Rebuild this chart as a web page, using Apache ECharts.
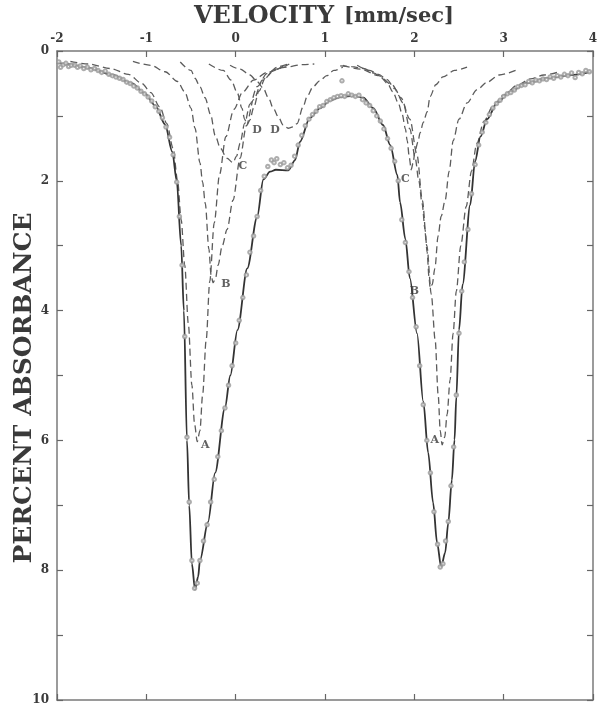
<!DOCTYPE html>
<html>
<head>
<meta charset="utf-8">
<script src="https://cdn.jsdelivr.net/npm/echarts@6/dist/echarts.min.js"></script>
<style>
  html, body { margin: 0; padding: 0; background: #fff; }
  #chart { width: 601px; height: 709px; }
</style>
</head>
<body>
<div id="chart"></div>
<script>
// velocity ticks (mm/sec) and absorbance tick labels
const velTicks = [-2, -1, 0, 1, 2, 3, 4]
const absTickLabels = [0, 2, 4, 6, 8, 10]

// measured spectrum (open circles), [velocity, % absorbance]
const measured = [
  [-1.98, 0.17], [-1.96, 0.25], [-1.93, 0.21], [-1.9, 0.19], [-1.87, 0.24], [-1.84, 0.22],
  [-1.8, 0.22], [-1.77, 0.25], [-1.74, 0.23], [-1.7, 0.27], [-1.66, 0.25], [-1.62, 0.29],
  [-1.58, 0.27], [-1.54, 0.3], [-1.5, 0.33], [-1.46, 0.31], [-1.42, 0.36], [-1.38, 0.38],
  [-1.34, 0.4], [-1.3, 0.42], [-1.26, 0.44], [-1.22, 0.48], [-1.18, 0.5], [-1.14, 0.54],
  [-1.1, 0.57], [-1.06, 0.62], [-1.02, 0.66], [-0.98, 0.71], [-0.94, 0.77], [-0.9, 0.86],
  [-0.86, 0.93], [-0.82, 1.03], [-0.78, 1.17], [-0.74, 1.33], [-0.7, 1.6], [-0.66, 2.02],
  [-0.63, 2.55], [-0.6, 3.3], [-0.57, 4.4], [-0.545, 5.95], [-0.52, 6.95], [-0.49, 7.85],
  [-0.46, 8.28], [-0.43, 8.2], [-0.4, 7.85], [-0.36, 7.55], [-0.32, 7.3], [-0.28, 6.95],
  [-0.24, 6.6], [-0.2, 6.25], [-0.16, 5.85], [-0.12, 5.5], [-0.08, 5.15], [-0.04, 4.85],
  [0.0, 4.5], [0.04, 4.15], [0.08, 3.8], [0.12, 3.45], [0.16, 3.1], [0.2, 2.85],
  [0.24, 2.55], [0.28, 2.15], [0.32, 1.93], [0.36, 1.78], [0.4, 1.68], [0.43, 1.72],
  [0.46, 1.66], [0.5, 1.75], [0.54, 1.72], [0.58, 1.8], [0.62, 1.76], [0.66, 1.62],
  [0.7, 1.45], [0.74, 1.3], [0.78, 1.15], [0.82, 1.05], [0.86, 0.98], [0.9, 0.93],
  [0.94, 0.86], [0.98, 0.84], [1.02, 0.78], [1.06, 0.75], [1.1, 0.72], [1.14, 0.7],
  [1.18, 0.69], [1.19, 0.46], [1.22, 0.7], [1.26, 0.66], [1.3, 0.68], [1.34, 0.7],
  [1.38, 0.68], [1.42, 0.75], [1.46, 0.8], [1.5, 0.84], [1.54, 0.92], [1.58, 1.0],
  [1.62, 1.08], [1.66, 1.2], [1.7, 1.35], [1.74, 1.5], [1.78, 1.7], [1.82, 2.0],
  [1.86, 2.6], [1.9, 2.95], [1.94, 3.4], [1.98, 3.8], [2.02, 4.25], [2.06, 4.85],
  [2.1, 5.45], [2.14, 6.0], [2.18, 6.5], [2.22, 7.1], [2.26, 7.6], [2.29, 7.95],
  [2.32, 7.9], [2.35, 7.55], [2.38, 7.25], [2.41, 6.7], [2.44, 6.1], [2.47, 5.3],
  [2.5, 4.35], [2.53, 3.7], [2.56, 3.25], [2.6, 2.75], [2.64, 2.2], [2.68, 1.75],
  [2.72, 1.45], [2.76, 1.25], [2.8, 1.1], [2.84, 0.98], [2.88, 0.88], [2.92, 0.81],
  [2.96, 0.76], [3.0, 0.7], [3.04, 0.66], [3.08, 0.64], [3.12, 0.6], [3.16, 0.55],
  [3.2, 0.53], [3.24, 0.52], [3.28, 0.47], [3.32, 0.49], [3.36, 0.45], [3.4, 0.46],
  [3.44, 0.43], [3.48, 0.44], [3.52, 0.4], [3.56, 0.42], [3.6, 0.38], [3.64, 0.4],
  [3.68, 0.36], [3.72, 0.38], [3.76, 0.34], [3.8, 0.41], [3.84, 0.33], [3.88, 0.35],
  [3.92, 0.3], [3.96, 0.32],
]

// total fit (solid line)
const fitTotal = [
  [-2.0, 0.18], [-1.91, 0.2], [-1.65, 0.26], [-1.38, 0.37], [-1.16, 0.5], [-1.02, 0.65],
  [-0.9, 0.84], [-0.79, 1.13], [-0.71, 1.55], [-0.66, 2.0], [-0.61, 3.0], [-0.58, 4.0],
  [-0.545, 6.0], [-0.52, 7.0], [-0.49, 7.9], [-0.455, 8.3], [-0.42, 8.1], [-0.4, 7.85],
  [-0.31, 7.26], [-0.23, 6.5], [-0.12, 5.5], [-0.06, 5.0], [0.02, 4.3], [0.13, 3.35],
  [0.24, 2.56], [0.31, 1.98], [0.385, 1.86], [0.45, 1.83], [0.59, 1.84], [0.665, 1.68],
  [0.72, 1.4], [0.83, 1.03], [0.945, 0.88], [1.06, 0.76], [1.17, 0.71], [1.315, 0.69],
  [1.43, 0.72], [1.54, 0.88], [1.65, 1.14], [1.73, 1.45], [1.81, 1.91], [1.84, 2.33],
  [1.9, 2.9], [1.95, 3.5], [2.03, 4.35], [2.1, 5.4], [2.155, 6.19], [2.21, 6.96],
  [2.255, 7.58], [2.3, 7.95], [2.345, 7.73], [2.38, 7.27], [2.42, 6.61], [2.45, 5.99],
  [2.47, 5.33], [2.5, 4.3], [2.54, 3.6], [2.625, 2.37], [2.68, 1.7], [2.74, 1.32],
  [2.815, 1.05], [2.93, 0.79], [3.07, 0.63], [3.26, 0.49], [3.49, 0.42], [3.75, 0.37],
  [3.97, 0.32],
]

// fitted component lines (dashed)
const compA = [
  [-1.85, 0.16], [-1.65, 0.2], [-1.4, 0.27], [-1.2, 0.36], [-1.05, 0.5], [-0.95, 0.64],
  [-0.85, 0.86], [-0.77, 1.12], [-0.7, 1.5], [-0.65, 2.0], [-0.61, 2.6], [-0.57, 3.3],
  [-0.53, 4.2], [-0.49, 5.15], [-0.46, 5.75], [-0.43, 6.02], [-0.4, 5.85], [-0.37, 5.3],
  [-0.33, 4.45], [-0.29, 3.55], [-0.24, 2.65], [-0.18, 1.9], [-0.11, 1.32], [-0.02, 0.9],
  [0.08, 0.63], [0.2, 0.45], [0.35, 0.33], [0.55, 0.25], [0.75, 0.21], [0.88, 0.2],
]
const compB = [
  [-1.15, 0.16], [-0.95, 0.22], [-0.79, 0.32], [-0.65, 0.47], [-0.57, 0.63], [-0.5, 0.88],
  [-0.455, 1.19], [-0.4, 1.72], [-0.37, 2.02], [-0.34, 2.35], [-0.3, 3.05], [-0.275, 3.45],
  [-0.253, 3.57], [-0.225, 3.5], [-0.197, 3.3], [-0.15, 3.0], [-0.096, 2.75], [-0.03, 2.3],
  [0.05, 1.65], [0.12, 1.15], [0.2, 0.75], [0.3, 0.45], [0.45, 0.28], [0.6, 0.2],
]
const compC = [
  [-0.62, 0.17], [-0.5, 0.3], [-0.455, 0.42], [-0.4, 0.55], [-0.343, 0.72], [-0.28, 0.98],
  [-0.23, 1.3], [-0.17, 1.5], [-0.1, 1.65], [-0.03, 1.72], [0.01, 1.62], [0.05, 1.42],
  [0.1, 1.12], [0.16, 0.82], [0.24, 0.55], [0.35, 0.35], [0.48, 0.24], [0.6, 0.19],
]
const compD = [
  [-0.3, 0.2], [-0.14, 0.3], [-0.05, 0.45], [0.02, 0.65], [0.07, 0.88], [0.1, 1.05],
  [0.128, 1.14], [0.16, 1.06], [0.2, 0.88], [0.26, 0.62], [0.33, 0.42], [0.42, 0.3],
  [0.55, 0.22],
]
const compD2 = [
  [-0.063, 0.22], [0.05, 0.28], [0.16, 0.37], [0.24, 0.47], [0.307, 0.57], [0.37, 0.73],
  [0.42, 0.88], [0.48, 1.02], [0.53, 1.14], [0.587, 1.19], [0.64, 1.17], [0.687, 1.12],
  [0.755, 0.86], [0.8, 0.7], [0.867, 0.55], [0.94, 0.46], [1.02, 0.38], [1.1, 0.3],
  [1.2, 0.25],
]
const compC2 = [
  [1.17, 0.23], [1.3, 0.24], [1.43, 0.27], [1.55, 0.34], [1.62, 0.4], [1.7, 0.5],
  [1.76, 0.63], [1.82, 0.8], [1.863, 0.97], [1.9, 1.2], [1.92, 1.38], [1.945, 1.65],
  [1.964, 1.83], [1.985, 1.73], [2.01, 1.53], [2.04, 1.4], [2.065, 1.26], [2.1, 1.1],
  [2.143, 0.94], [2.177, 0.7], [2.24, 0.52], [2.32, 0.4], [2.45, 0.3], [2.59, 0.25],
]
const compB2 = [
  [1.36, 0.22], [1.5, 0.3], [1.6, 0.36], [1.695, 0.44], [1.78, 0.58], [1.875, 0.8],
  [1.95, 1.2], [2.01, 1.65], [2.05, 2.0], [2.087, 2.35], [2.12, 2.75], [2.143, 3.1],
  [2.165, 3.5], [2.177, 3.65], [2.2, 3.6], [2.23, 3.35], [2.266, 2.85], [2.3, 2.55],
  [2.345, 2.3], [2.39, 1.85], [2.435, 1.38], [2.5, 1.05], [2.59, 0.8], [2.7, 0.6],
  [2.815, 0.48], [2.95, 0.37], [3.15, 0.29],
]
const compA2 = [
  [1.2, 0.22], [1.4, 0.28], [1.6, 0.38], [1.75, 0.52], [1.85, 0.72], [1.95, 1.05],
  [2.03, 1.6], [2.09, 2.3], [2.14, 3.0], [2.19, 3.75], [2.233, 4.45], [2.267, 5.3],
  [2.29, 5.85], [2.311, 6.07], [2.34, 5.95], [2.367, 5.6], [2.4, 5.07], [2.434, 4.35],
  [2.47, 3.7], [2.52, 3.0], [2.58, 2.4], [2.64, 1.85], [2.7, 1.42], [2.78, 1.08],
  [2.88, 0.85], [3.0, 0.68], [3.15, 0.53], [3.3, 0.43], [3.45, 0.37], [3.6, 0.33],
]

// component letters next to each minimum
const peakLabels = [
  ['A', -0.34, 6.07], ['B', -0.11, 3.6], ['C', 0.08, 1.77], ['D', 0.24, 1.22],
  ['D', 0.44, 1.22], ['C', 1.9, 1.98], ['B', 2.0, 3.7], ['A', 2.23, 6.0],
]

const serif = 'DejaVu Serif'
const ink = '#3a3a3a'

const chart = echarts.init(document.getElementById('chart'), null, { renderer: 'canvas' })

const dashed = (data) => ({
  type: 'line',
  xAxisIndex: 0,
  yAxisIndex: 0,
  data: data,
  smooth: 0.3,
  smoothMonotone: 'x',
  showSymbol: false,
  silent: true,
  z: 2,
  lineStyle: { color: '#5c5c5c', width: 1.3, type: [7, 4] },
})

const frameLine = { show: true, onZero: false, lineStyle: { color: '#7a7a7a', width: 1.5 } }
const frameTick = { show: true, inside: true, length: 6, lineStyle: { color: '#666', width: 1.2 } }

const velAxis = {
  type: 'value',
  min: -2,
  max: 4,
  interval: 1,
  axisLine: frameLine,
  axisTick: frameTick,
  splitLine: { show: false },
}

const absAxis = {
  type: 'value',
  min: 0,
  max: 10,
  interval: 1,
  inverse: true,
  axisLine: frameLine,
  axisTick: frameTick,
  splitLine: { show: false },
}

chart.setOption({
  backgroundColor: '#fff',
  animation: false,
  grid: { left: 57, right: 8, top: 51, bottom: 9 },
  graphic: [
    {
      type: 'text',
      left: 194,
      top: 5,
      style: {
        text: '{a|VELOCITY}   {b|[mm/sec]}',
        rich: {
          a: { fontFamily: serif, fontWeight: 'bold', fontSize: 24, fill: ink },
          b: { fontFamily: serif, fontWeight: 'bold', fontSize: 21, fill: ink },
        },
      },
    },
    {
      type: 'text',
      x: 24,
      y: 388,
      rotation: Math.PI / 2,
      style: {
        text: 'PERCENT ABSORBANCE',
        fontFamily: serif,
        fontWeight: 'bold',
        fontSize: 25,
        fill: ink,
        align: 'center',
        verticalAlign: 'middle',
      },
    },
  ],
  xAxis: [
    {
      ...velAxis,
      position: 'top',
      axisLabel: {
        margin: 6,
        fontFamily: serif,
        fontWeight: 'bold',
        fontSize: 12,
        color: ink,
        formatter: (v) => (velTicks.includes(v) ? String(v) : ''),
      },
    },
    {
      ...velAxis,
      position: 'bottom',
      axisLabel: { show: false },
    },
  ],
  yAxis: [
    {
      ...absAxis,
      position: 'left',
      axisLabel: {
        margin: 8,
        fontFamily: serif,
        fontWeight: 'bold',
        fontSize: 12,
        color: ink,
        formatter: (v) => (absTickLabels.includes(v) ? String(v) : ''),
      },
    },
    {
      ...absAxis,
      position: 'right',
      axisLabel: { show: false },
    },
  ],
  series: [
    dashed(compA),
    dashed(compB),
    dashed(compC),
    dashed(compD),
    dashed(compD2),
    dashed(compC2),
    dashed(compB2),
    dashed(compA2),
    {
      name: 'fit',
      type: 'line',
      data: fitTotal,
      smooth: 0.3,
      smoothMonotone: 'x',
      showSymbol: false,
      silent: true,
      z: 3,
      lineStyle: { color: '#333', width: 1.8 },
    },
    {
      name: 'measured',
      type: 'scatter',
      data: measured,
      symbol: 'emptyCircle',
      symbolSize: 3.5,
      silent: true,
      z: 4,
      itemStyle: { color: '#999', borderWidth: 0.9 },
    },
    {
      name: 'labels',
      type: 'scatter',
      data: peakLabels.map((p) => ({ name: p[0], value: [p[1], p[2]] })),
      symbolSize: 0,
      silent: true,
      z: 5,
      label: {
        show: true,
        position: 'inside',
        formatter: '{b}',
        fontFamily: serif,
        fontWeight: 'bold',
        fontSize: 11,
        color: ink,
      },
    },
  ],
})
</script>
</body>
</html>
